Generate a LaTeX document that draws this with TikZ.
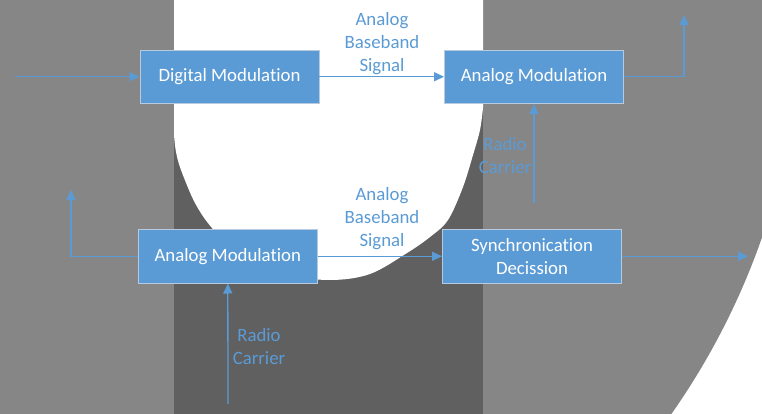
\documentclass[tikz,border=0pt]{standalone}
\usepackage{fontspec}
\setmainfont{Carlito}[Ligatures={NoCommon,NoRare}]
\usetikzlibrary{arrows.meta}
\definecolor{bxblue}{RGB}{91,155,213}
\definecolor{bxedge}{RGB}{185,202,222}
\definecolor{bggray}{RGB}{134,134,135}
\definecolor{bgdark}{RGB}{96,96,97}
\tikzset{
  box/.style={draw=bxedge, line width=0.9pt, fill=bxblue, text=white, minimum width=179pt, minimum height=53.5pt, inner sep=0pt, align=center, font=\fontsize{18.8}{23}\selectfont},
  lbl/.style={text=bxblue, align=center, inner sep=0pt, font=\fontsize{18.8}{23}\selectfont},
  conn/.style={draw=bxblue, line width=1.3pt, -{Triangle[length=10pt,width=9pt]}},
  plain/.style={draw=bxblue, line width=1.3pt}
}
\begin{document}
\begin{tikzpicture}[x=1pt,y=-1pt]
\useasboundingbox (0,0) rectangle (762,414);
% background
\fill[white] (0,0) rectangle (762,414);
\begin{scope}
\clip (0,0) rectangle (762,414);
\fill[bggray] (81,0) circle[radius=721];
\end{scope}
\fill[bgdark] (174,0) rectangle (483,414);
\fill[white] (174,0) -- plot[smooth, tension=0.55] coordinates {(174,135) (176,152) (181,170) (195,203) (212,228) (240,255) (280,274) (330,280) (370,274) (407,253) (430,237) (448,220) (463,187) (473,155) (480,130) (483,108)} -- (483,0) -- cycle;
% nodes
\node[box] (dm) at (229.5,76.75) {Digital Modulation};
\node[box] (am1) at (534,76.75) {Analog Modulation};
\node[box] (am2) at (227.8,256.3) {Analog Modulation};
\node[box] (sd) at (532,256.3) {Synchronication\\Decission};
\coordinate (in1) at (15,76.75);
\coordinate (out1) at (684,15);
\coordinate (rc1) at (534,203);
\coordinate (out2) at (71,190);
\coordinate (rc2) at (228,404);
\coordinate (out3) at (748,256.3);
% labels
\node[lbl] (l1) at (382,44) {Analog\\Baseband\\Signal};
\node[lbl] (l2) at (382,219) {Analog\\Baseband\\Signal};
\node[lbl] (l3) at (505,156) {Radio\\Carrier};
\node[lbl] (l4) at (259,347) {Radio\\Carrier};
% connectors
\draw[conn] (in1) -- (dm.west);
\draw[conn] (dm.east) -- (am1.west);
\draw[conn] (am1.east) -| (out1);
\draw[conn] (rc1) -- (am1.south);
\draw[conn] (am2.west) -| (out2);
\draw[conn] (am2.east) -- (sd.west);
\draw[conn] (rc2) -- (am2.south);
\draw[conn] (sd.east) -- (out3);
\end{tikzpicture}
\end{document}
